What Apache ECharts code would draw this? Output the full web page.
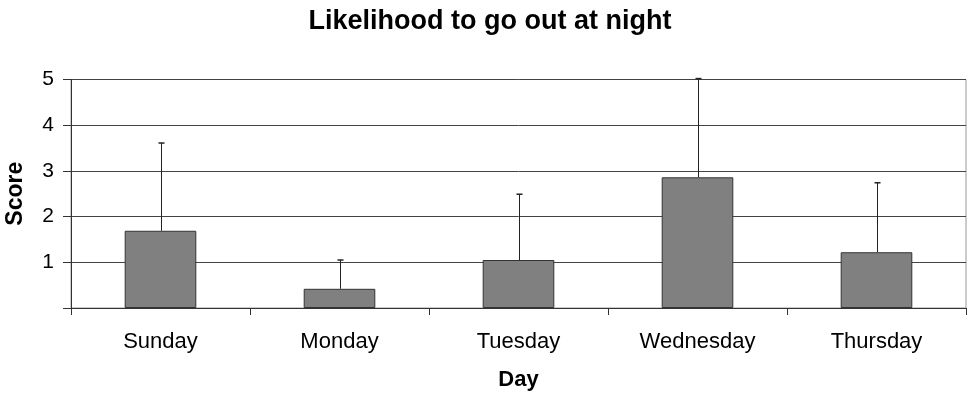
<!DOCTYPE html>
<html><head><meta charset="utf-8">
<script src="https://cdn.jsdelivr.net/npm/echarts@6/dist/echarts.min.js"></script>
<style>html,body{margin:0;padding:0;background:#fff}#c{width:975px;height:399px}</style>
</head><body><div id="c"></div>
<script>
const categories = ['Sunday', 'Monday', 'Tuesday', 'Wednesday', 'Thursday'];
const means = [1.69, 0.42, 1.05, 2.86, 1.22];
const errors = [1.92, 0.63, 1.44, 2.16, 1.52];
const yTicks = [0, 1, 2, 3, 4, 5];

const FONT = '"Liberation Sans", Arial, sans-serif';
const chart = echarts.init(document.getElementById('c'));
chart.setOption({
  animation: false,
  title: { text: 'Likelihood to go out at night', left: 485, textAlign: 'center', top: 3,
    textStyle: { fontFamily: FONT, fontSize: 27, fontWeight: 'bold', color: '#000' } },
  grid: { left: 71, right: 9, top: 79.5, bottom: 91, show: true, borderColor: '#999', borderWidth: 1,
    outerBoundsMode: 'none', containLabel: false },
  xAxis: {
    type: 'category', data: categories,
    name: 'Day', nameLocation: 'middle', nameGap: 61,
    nameTextStyle: { fontFamily: FONT, fontSize: 22, fontWeight: 'bold', color: '#000' },
    axisLine: { lineStyle: { color: '#333', width: 1 } },
    axisTick: { show: true, length: 7, lineStyle: { color: '#333' } },
    axisLabel: { fontFamily: FONT, fontSize: 22, color: '#000', margin: 23 }
  },
  yAxis: {
    type: 'value', min: yTicks[0], max: yTicks[yTicks.length - 1], interval: 1,
    name: 'Score', nameLocation: 'middle', nameGap: 44,
    nameTextStyle: { fontFamily: FONT, fontSize: 23, fontWeight: 'bold', color: '#000' },
    axisLine: { show: true, lineStyle: { color: '#333', width: 1 } },
    axisTick: { show: true, length: 8, lineStyle: { color: '#333' } },
    axisLabel: { fontFamily: FONT, fontSize: 21, color: '#000', margin: 17,
      formatter: v => v === 0 ? '' : String(v) },
    splitLine: { show: true, lineStyle: { color: '#444', width: 1 } }
  },
  series: [
    { type: 'bar', data: means, barWidth: '40%',
      itemStyle: { color: '#808080', borderColor: '#333', borderWidth: 1 } },
    { type: 'custom', z: 1,
      data: means.map((m, i) => [i, m, m + errors[i]]),
      renderItem: (params, api) => {
        const base = api.coord([api.value(0), api.value(1)]);
        const top = api.coord([api.value(0), api.value(2)]);
        const x = Math.round(base[0]) + 0.5;
        return { type: 'group', children: [
          { type: 'line', shape: { x1: x, y1: base[1], x2: x, y2: top[1] }, style: { stroke: '#222', lineWidth: 1 } },
          { type: 'line', shape: { x1: x - 3, y1: top[1], x2: x + 3, y2: top[1] }, style: { stroke: '#222', lineWidth: 1.5 } }
        ]};
      }
    }
  ]
});
</script></body></html>
